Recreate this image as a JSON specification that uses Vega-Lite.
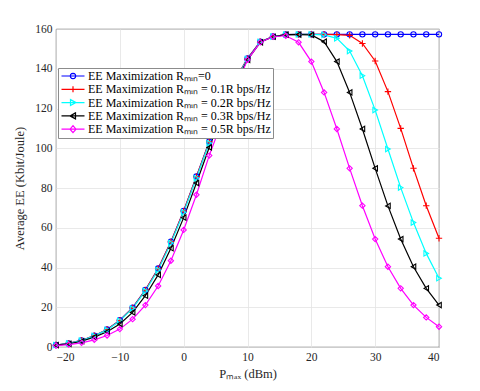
{
  "$schema": "https://vega.github.io/schema/vega-lite/v6.json",
  "width": 383,
  "height": 318,
  "autosize": "none",
  "padding": {"left": 56, "top": 29, "right": 41, "bottom": 44},
  "background": "white",
  "config": {
    "font": "Liberation Serif",
    "view": {"stroke": "#262626", "strokeWidth": 0.8},
    "axis": {
      "labelFont": "Liberation Serif",
      "titleFont": "Liberation Serif",
      "labelFontSize": 11.5,
      "titleFontSize": 12.5,
      "titleFontWeight": "normal",
      "labelColor": "#262626",
      "titleColor": "#262626",
      "gridColor": "#e3e3e3",
      "gridWidth": 0.8,
      "domain": false,
      "ticks": false,
      "labelPadding": 4
    },
    "point": {"filled": false, "size": 28, "strokeWidth": 1.1, "opacity": 1}
  },
  "data": {
    "values": [
      {"x": -20, "r": "0", "y": 1.0}, {"x": -18, "r": "0", "y": 1.8}, {"x": -16, "r": "0", "y": 3.3}, {"x": -14, "r": "0", "y": 5.7}, {"x": -12, "r": "0", "y": 8.8}, {"x": -10, "r": "0", "y": 13.5}, {"x": -8, "r": "0", "y": 19.8}, {"x": -6, "r": "0", "y": 28.7}, {"x": -4, "r": "0", "y": 39.5}, {"x": -2, "r": "0", "y": 53.0}, {"x": 0, "r": "0", "y": 68.5}, {"x": 2, "r": "0", "y": 85.8}, {"x": 4, "r": "0", "y": 103.3}, {"x": 6, "r": "0", "y": 119.5}, {"x": 8, "r": "0", "y": 134.0}, {"x": 10, "r": "0", "y": 145.2}, {"x": 12, "r": "0", "y": 153.6}, {"x": 14, "r": "0", "y": 156.2}, {"x": 16, "r": "0", "y": 157.2}, {"x": 18, "r": "0", "y": 157.3}, {"x": 20, "r": "0", "y": 157.3}, {"x": 22, "r": "0", "y": 157.3}, {"x": 24, "r": "0", "y": 157.3}, {"x": 26, "r": "0", "y": 157.3}, {"x": 28, "r": "0", "y": 157.3}, {"x": 30, "r": "0", "y": 157.3}, {"x": 32, "r": "0", "y": 157.3}, {"x": 34, "r": "0", "y": 157.3}, {"x": 36, "r": "0", "y": 157.3}, {"x": 38, "r": "0", "y": 157.3}, {"x": 40, "r": "0", "y": 157.3},
      {"x": -20, "r": "0.1", "y": 1.0}, {"x": -18, "r": "0.1", "y": 1.8}, {"x": -16, "r": "0.1", "y": 3.3}, {"x": -14, "r": "0.1", "y": 5.7}, {"x": -12, "r": "0.1", "y": 8.8}, {"x": -10, "r": "0.1", "y": 13.4}, {"x": -8, "r": "0.1", "y": 19.7}, {"x": -6, "r": "0.1", "y": 28.6}, {"x": -4, "r": "0.1", "y": 39.4}, {"x": -2, "r": "0.1", "y": 52.9}, {"x": 0, "r": "0.1", "y": 68.4}, {"x": 2, "r": "0.1", "y": 85.7}, {"x": 4, "r": "0.1", "y": 103.2}, {"x": 6, "r": "0.1", "y": 119.4}, {"x": 8, "r": "0.1", "y": 133.9}, {"x": 10, "r": "0.1", "y": 145.1}, {"x": 12, "r": "0.1", "y": 153.6}, {"x": 14, "r": "0.1", "y": 156.2}, {"x": 16, "r": "0.1", "y": 157.2}, {"x": 18, "r": "0.1", "y": 157.3}, {"x": 20, "r": "0.1", "y": 157.3}, {"x": 22, "r": "0.1", "y": 157.3}, {"x": 24, "r": "0.1", "y": 157.2}, {"x": 26, "r": "0.1", "y": 156.8}, {"x": 28, "r": "0.1", "y": 152.7}, {"x": 30, "r": "0.1", "y": 143.9}, {"x": 32, "r": "0.1", "y": 128.5}, {"x": 34, "r": "0.1", "y": 110.0}, {"x": 36, "r": "0.1", "y": 89.9}, {"x": 38, "r": "0.1", "y": 71.1}, {"x": 40, "r": "0.1", "y": 54.7},
      {"x": -20, "r": "0.2", "y": 1.0}, {"x": -18, "r": "0.2", "y": 1.8}, {"x": -16, "r": "0.2", "y": 3.2}, {"x": -14, "r": "0.2", "y": 5.6}, {"x": -12, "r": "0.2", "y": 8.6}, {"x": -10, "r": "0.2", "y": 13.2}, {"x": -8, "r": "0.2", "y": 19.4}, {"x": -6, "r": "0.2", "y": 28.2}, {"x": -4, "r": "0.2", "y": 38.8}, {"x": -2, "r": "0.2", "y": 52.3}, {"x": 0, "r": "0.2", "y": 67.8}, {"x": 2, "r": "0.2", "y": 85.0}, {"x": 4, "r": "0.2", "y": 102.6}, {"x": 6, "r": "0.2", "y": 118.8}, {"x": 8, "r": "0.2", "y": 133.4}, {"x": 10, "r": "0.2", "y": 144.9}, {"x": 12, "r": "0.2", "y": 153.5}, {"x": 14, "r": "0.2", "y": 156.2}, {"x": 16, "r": "0.2", "y": 157.2}, {"x": 18, "r": "0.2", "y": 157.3}, {"x": 20, "r": "0.2", "y": 157.3}, {"x": 22, "r": "0.2", "y": 157.0}, {"x": 24, "r": "0.2", "y": 155.3}, {"x": 26, "r": "0.2", "y": 148.9}, {"x": 28, "r": "0.2", "y": 136.5}, {"x": 30, "r": "0.2", "y": 119.2}, {"x": 32, "r": "0.2", "y": 99.6}, {"x": 34, "r": "0.2", "y": 80.2}, {"x": 36, "r": "0.2", "y": 62.6}, {"x": 38, "r": "0.2", "y": 47.1}, {"x": 40, "r": "0.2", "y": 34.6},
      {"x": -20, "r": "0.3", "y": 0.9}, {"x": -18, "r": "0.3", "y": 1.6}, {"x": -16, "r": "0.3", "y": 2.9}, {"x": -14, "r": "0.3", "y": 5.0}, {"x": -12, "r": "0.3", "y": 7.7}, {"x": -10, "r": "0.3", "y": 11.6}, {"x": -8, "r": "0.3", "y": 17.4}, {"x": -6, "r": "0.3", "y": 25.8}, {"x": -4, "r": "0.3", "y": 36.3}, {"x": -2, "r": "0.3", "y": 49.7}, {"x": 0, "r": "0.3", "y": 65.1}, {"x": 2, "r": "0.3", "y": 82.5}, {"x": 4, "r": "0.3", "y": 100.4}, {"x": 6, "r": "0.3", "y": 117.0}, {"x": 8, "r": "0.3", "y": 132.0}, {"x": 10, "r": "0.3", "y": 144.5}, {"x": 12, "r": "0.3", "y": 153.3}, {"x": 14, "r": "0.3", "y": 156.1}, {"x": 16, "r": "0.3", "y": 157.2}, {"x": 18, "r": "0.3", "y": 157.2}, {"x": 20, "r": "0.3", "y": 157.0}, {"x": 22, "r": "0.3", "y": 153.6}, {"x": 24, "r": "0.3", "y": 143.6}, {"x": 26, "r": "0.3", "y": 128.1}, {"x": 28, "r": "0.3", "y": 109.7}, {"x": 30, "r": "0.3", "y": 89.9}, {"x": 32, "r": "0.3", "y": 71.0}, {"x": 34, "r": "0.3", "y": 54.3}, {"x": 36, "r": "0.3", "y": 40.4}, {"x": 38, "r": "0.3", "y": 29.5}, {"x": 40, "r": "0.3", "y": 21.1},
      {"x": -20, "r": "0.5", "y": 0.7}, {"x": -18, "r": "0.5", "y": 1.2}, {"x": -16, "r": "0.5", "y": 2.1}, {"x": -14, "r": "0.5", "y": 3.6}, {"x": -12, "r": "0.5", "y": 5.8}, {"x": -10, "r": "0.5", "y": 9.0}, {"x": -8, "r": "0.5", "y": 14.0}, {"x": -6, "r": "0.5", "y": 21.1}, {"x": -4, "r": "0.5", "y": 30.7}, {"x": -2, "r": "0.5", "y": 43.4}, {"x": 0, "r": "0.5", "y": 58.9}, {"x": 2, "r": "0.5", "y": 76.6}, {"x": 4, "r": "0.5", "y": 96.3}, {"x": 6, "r": "0.5", "y": 113.5}, {"x": 8, "r": "0.5", "y": 129.5}, {"x": 10, "r": "0.5", "y": 144.5}, {"x": 12, "r": "0.5", "y": 153.3}, {"x": 14, "r": "0.5", "y": 156.1}, {"x": 16, "r": "0.5", "y": 156.6}, {"x": 18, "r": "0.5", "y": 153.3}, {"x": 20, "r": "0.5", "y": 143.6}, {"x": 22, "r": "0.5", "y": 128.1}, {"x": 24, "r": "0.5", "y": 109.7}, {"x": 26, "r": "0.5", "y": 89.9}, {"x": 28, "r": "0.5", "y": 71.1}, {"x": 30, "r": "0.5", "y": 54.3}, {"x": 32, "r": "0.5", "y": 40.4}, {"x": 34, "r": "0.5", "y": 29.5}, {"x": 36, "r": "0.5", "y": 21.1}, {"x": 38, "r": "0.5", "y": 14.9}, {"x": 40, "r": "0.5", "y": 10.2}
    ]
  },
  "encoding": {
    "x": {
      "field": "x", "type": "quantitative",
      "scale": {"domain": [-20, 40], "nice": false},
      "axis": {"values": [-20, -10, 0, 10, 20, 30, 40], "title": "Pₘₐₓ (dBm)", "titlePadding": 5}
    },
    "y": {
      "field": "y", "type": "quantitative",
      "scale": {"domain": [0, 160], "nice": false},
      "axis": {"values": [0, 20, 40, 60, 80, 100, 120, 140, 160], "title": "Average EE (Kbit/Joule)", "titlePadding": 8}
    }
  },
  "layer": [
    {
      "mark": {"type": "line", "strokeWidth": 1.2},
      "encoding": {
        "color": {
          "field": "r", "type": "nominal",
          "scale": {"domain": ["0", "0.1", "0.2", "0.3", "0.5"], "range": ["#0000ff", "#ff0000", "#00ffff", "#000000", "#ff00ff"]},
          "legend": {
            "title": null,
            "orient": "none",
            "legendX": 2,
            "legendY": 39,
            "fillColor": "white",
            "strokeColor": "#8c8c8c",
            "padding": 2,
            "rowPadding": 1.3,
            "symbolSize": 100,
            "symbolStrokeWidth": 1.2,
            "symbolOffset": 7,
            "labelOffset": 9,
            "labelFont": "Liberation Serif",
            "labelFontSize": 12,
            "labelColor": "#000000",
            "labelLimit": 300,
            "labelExpr": "datum.value == '0' ? 'EE Maximization Rₘᵢₙ=0' : 'EE Maximization Rₘᵢₙ = ' + datum.value + 'R bps/Hz'",
            "encode": {
              "symbols": {
                "update": {
                  "fill": {"value": "transparent"},
                  "shape": {"signal": "datum.value == '0' ? 'M-2.3,0H2.3M0.54,0L0.468,0.27L0.27,0.468L0,0.54L-0.27,0.468L-0.468,0.27L-0.54,0L-0.468,-0.27L-0.27,-0.468L0,-0.54L0.27,-0.468L0.468,-0.27Z' : datum.value == '0.1' ? 'M-2.3,0H2.3M0,-0.6V0.6' : datum.value == '0.2' ? 'M-2.3,0H2.3M-0.5,-0.6L0.6,0L-0.5,0.6Z' : datum.value == '0.3' ? 'M-2.3,0H2.3M0.5,-0.6L-0.6,0L0.5,0.6Z' : 'M-2.3,0H2.3M0,-0.7L0.6,0L0,0.7L-0.6,0Z'"}
                }
              }
            }
          }
        }
      }
    },
    {
      "transform": [{"filter": "datum.r == '0'"}],
      "mark": {"type": "point", "shape": "circle", "color": "#0000ff"}
    },
    {
      "transform": [{"filter": "datum.r == '0.1'"}],
      "mark": {"type": "point", "shape": "M-1.2,0H1.2M0,-1.2V1.2", "color": "#ff0000"}
    },
    {
      "transform": [{"filter": "datum.r == '0.2'"}],
      "mark": {"type": "point", "shape": "triangle-right", "color": "#00ffff"}
    },
    {
      "transform": [{"filter": "datum.r == '0.3'"}],
      "mark": {"type": "point", "shape": "triangle-left", "color": "#000000"}
    },
    {
      "transform": [{"filter": "datum.r == '0.5'"}],
      "mark": {"type": "point", "shape": "diamond", "color": "#ff00ff"}
    }
  ]
}
